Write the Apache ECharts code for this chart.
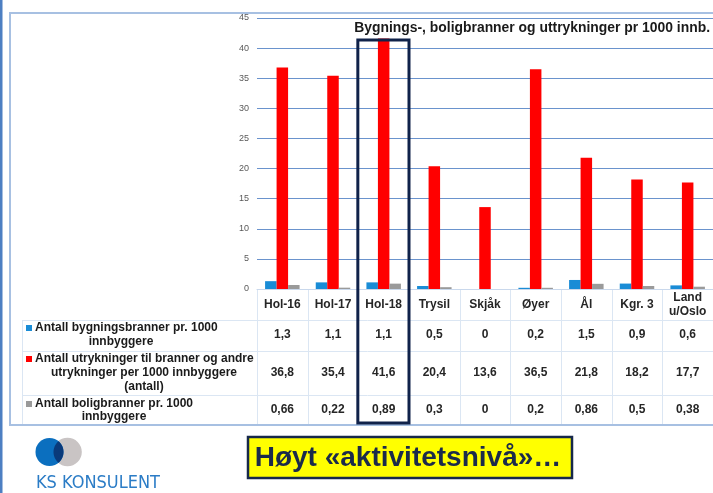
<!DOCTYPE html>
<html><head><meta charset="utf-8">
<script src="https://cdn.jsdelivr.net/npm/echarts@6/dist/echarts.min.js"></script>
<style>html,body{margin:0;padding:0;background:#fff;overflow:hidden}#c{width:713px;height:493px}</style>
</head><body><div id="c"></div>
<script>
// ---- data ----
const categories = ['Hol-16', 'Hol-17', 'Hol-18', 'Trysil', 'Skjåk', 'Øyer', 'Ål', 'Kgr. 3', 'Land\nu/Oslo'];
const bygningsbranner = [1.3, 1.1, 1.1, 0.5, 0, 0.2, 1.5, 0.9, 0.6];
const utrykninger = [36.8, 35.4, 41.6, 20.4, 13.6, 36.5, 21.8, 18.2, 17.7];
const boligbranner = [0.66, 0.22, 0.89, 0.3, 0, 0.2, 0.86, 0.5, 0.38];
const seriesNames = [
  'Antall bygningsbranner pr. 1000 innbyggere',
  'Antall utrykninger til branner og andre utrykninger per 1000 innbyggere (antall)',
  'Antall boligbranner pr. 1000 innbyggere'
];
const seriesLabelLines = [
  ['Antall bygningsbranner pr. 1000', 'innbyggere'],
  ['Antall utrykninger til branner og andre', 'utrykninger per 1000 innbyggere', '(antall)'],
  ['Antall boligbranner pr. 1000', 'innbyggere']
];
const yMin = 0, yMax = 45, yStep = 5;
const chartTitle = 'Bygnings-, boligbranner og uttrykninger pr 1000 innb.';
const highlightCategory = 'Hol-18';
const bannerText = 'Høyt «aktivitetsnivå»…';
const logoText = 'KS KONSULENT';

// ---- rendering ----
const FONT = '"Liberation Sans", Arial, sans-serif';
const colors = ['#1a8cd6', '#ff0000', '#9a9a9a'];
const seriesData = [bygningsbranner, utrykninger, boligbranner];
const fmt = v => String(v).replace('.', ',');

const chart = echarts.init(document.getElementById('c'), null, {renderer: 'canvas'});
chart.setOption({
  animation: false,
  backgroundColor: '#ffffff',
  color: colors,
  title: {
    text: chartTitle, right: 3, top: 21, padding: 0,
    textStyle: {fontFamily: FONT, fontSize: 13.9, fontWeight: 'bold', color: '#1a1a1a'}
  },
  grid: {left: 257, top: 18, width: 457, height: 271, containLabel: false},
  xAxis: {
    type: 'category', data: categories,
    axisLabel: {show: false}, axisTick: {show: false},
    axisLine: {lineStyle: {color: '#c9d8ec', width: 1}}
  },
  yAxis: {
    type: 'value', min: yMin, max: yMax, interval: yStep,
    axisLine: {show: false}, axisTick: {show: false},
    axisLabel: {fontFamily: FONT, fontSize: 9, color: '#595959', margin: 8},
    splitLine: {lineStyle: {color: '#6a93cd', width: 1}}
  },
  series: seriesData.map((d, s) => ({
    type: 'bar', name: seriesNames[s], data: d,
    barWidth: 11.5, barGap: '0%',
    itemStyle: {color: colors[s]}
  }))
});

const xc = i => chart.convertToPixel({xAxisIndex: 0}, i);
const bw = xc(1) - xc(0);
const g = [];
const txt = (text, x, y, align, font, fill, z) => ({
  type: 'text', z: z || 10, silent: true,
  style: {text, x, y, align, verticalAlign: 'middle', textAlign: align, textVerticalAlign: 'middle', font, fill}
});
const line = (x1, y1, x2, y2, stroke, w, z) => ({
  type: 'line', z: z || 5, silent: true,
  shape: {x1, y1, x2, y2}, style: {stroke, lineWidth: w}
});

// slide decoration
g.push({type: 'rect', z: 1, shape: {x: 0, y: 0, width: 2.5, height: 493}, style: {fill: '#4d7fc2'}});
g.push({type: 'rect', z: 1, shape: {x: 10, y: 13, width: 720, height: 412}, style: {fill: 'none', stroke: '#a7c0e2', lineWidth: 2}});

// table grid
const tableColor = '#dbe6f3';
const left0 = xc(0) - bw / 2;
for (let i = 0; i <= categories.length; i++) {
  const x = Math.round(left0 + i * bw) + 0.5;
  g.push(line(x, 290, x, 424, tableColor, 1));
}
[320.5, 351.5, 395.5].forEach(y => g.push(line(22, y, 713, y, tableColor, 1)));
g.push(line(22.5, 320, 22.5, 424, tableColor, 1));

// header (categories)
const tFont = 'bold 12px ' + FONT;
categories.forEach((c, i) => {
  const parts = c.split('\n');
  const ys = parts.length === 1 ? [305] : [298, 312];
  parts.forEach((p, k) => g.push(txt(p, xc(i), ys[k], 'center', tFont, '#262626')));
});

// values
const rowValueY = [335, 373, 410];
seriesData.forEach((d, s) => d.forEach((v, i) => g.push(txt(fmt(v), xc(i), rowValueY[s], 'center', tFont, '#262626'))));

// row labels with keys
const rowLineY = [[328, 342], [359, 373, 387], [404, 417]];
const contCenter = [121, 144, 114];
const lFont = 'bold 12px ' + FONT;
seriesLabelLines.forEach((lines, s) => {
  lines.forEach((t, k) => {
    const y = rowLineY[s][k];
    if (k === 0) {
      g.push({type: 'rect', z: 10, shape: {x: 26, y: y - 3, width: 6, height: 6}, style: {fill: colors[s]}});
      g.push(txt(t, 35, y, 'left', lFont, '#1a1a1a'));
    } else {
      g.push(txt(t, contCenter[s], y, 'center', lFont, '#1a1a1a'));
    }
  });
});

// highlight box
const hi = categories.indexOf(highlightCategory);
g.push({type: 'rect', z: 100, silent: true,
  shape: {x: xc(hi) - bw / 2 - 0.5, y: 40, width: bw + 0.5, height: 383},
  style: {fill: 'none', stroke: '#10224a', lineWidth: 3}});

// logo
const cA = [49.5, 452], cB = [67.5, 452], r = 14;
g.push({type: 'circle', z: 10, shape: {cx: cB[0], cy: cB[1], r: 14.3}, style: {fill: '#c9c4c4'}});
g.push({type: 'circle', z: 11, shape: {cx: cA[0], cy: cA[1], r: r}, style: {fill: '#0b6fbf'}});
(function () {
  const d = cB[0] - cA[0];
  const a = Math.acos((d / 2) / r);
  const pts = [];
  for (let k = 0; k <= 20; k++) { const t = -a + 2 * a * k / 20; pts.push([cA[0] + r * Math.cos(t), cA[1] + r * Math.sin(t)]); }
  for (let k = 0; k <= 20; k++) { const t = Math.PI - a + 2 * a * k / 20; pts.push([cB[0] + r * Math.cos(t), cB[1] - r * Math.sin(t)]); }
  g.push({type: 'polygon', z: 12, shape: {points: pts}, style: {fill: '#0a3a7a'}});
})();
g.push(txt(logoText, 36, 483, 'left', '18px "Liberation Sans Narrow", "DejaVu Sans Condensed", sans-serif', '#2b7cc6'));

// banner
g.push({type: 'rect', z: 10, shape: {x: 248, y: 437, width: 324, height: 41}, style: {fill: '#ffff00', stroke: '#16284a', lineWidth: 2.5}});
g.push(txt(bannerText, 408, 458, 'center', 'bold 28px ' + FONT, '#1b2b4b', 11));

chart.setOption({graphic: {elements: g}});
</script>
</body></html>
